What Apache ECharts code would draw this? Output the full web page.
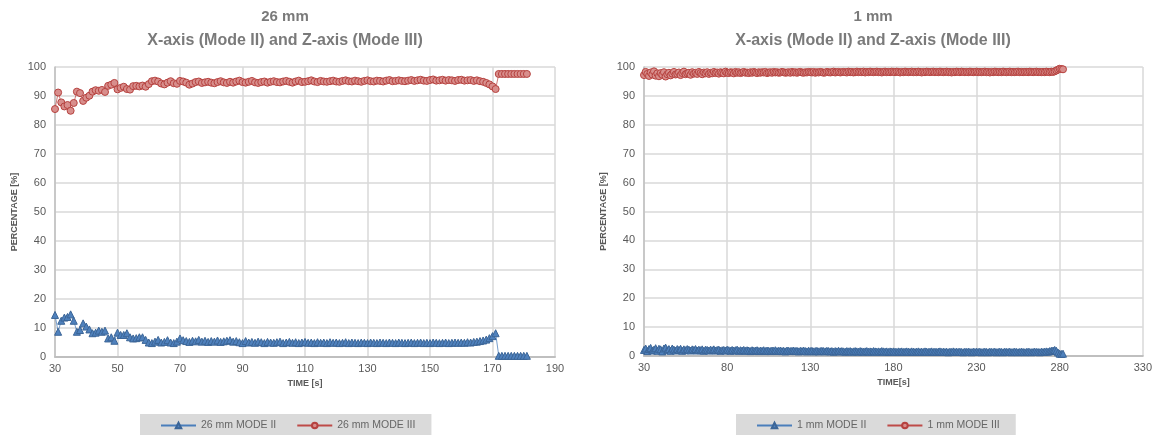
<!DOCTYPE html>
<html>
<head>
<meta charset="utf-8">
<script src="https://cdn.jsdelivr.net/npm/echarts@6/dist/echarts.min.js"></script>
<style>
  html, body { margin: 0; padding: 0; background: #fff; }
  #chart { width: 1155px; height: 435px; }
</style>
</head>
<body>
<div id="chart"></div>
<script>
// 26 mm panel, one sample per second starting at t = 30 s
const leftStart = 30
const leftModeII = [
  14.5, 8.7, 12.5, 13.6, 13.8, 14.7, 12.5, 8.7, 9.3, 11.6,
  10.5, 9.5, 8.2, 8.4, 9.1, 8.7, 9.1, 6.4, 6.8, 5.6,
  8.4, 7.6, 7.6, 8.2, 6.8, 6.4, 6.5, 6.8, 6.8, 5.9,
  5.0, 4.8, 5.3, 5.9, 5.0, 5.2, 5.8, 5.0, 4.8, 5.3,
  6.4, 5.8, 5.5, 5.2, 5.6, 5.4, 5.9, 5.3, 5.6, 5.2,
  5.5, 5.3, 5.7, 5.2, 5.4, 5.6, 5.8, 5.3, 5.5, 5.1,
  4.8, 5.5, 5.0, 5.2, 4.9, 5.3, 5.1, 4.8, 5.2, 5.0,
  4.9, 5.1, 5.3, 4.8, 5.0, 5.2, 4.9, 5.1, 4.8, 5.0,
  5.2, 4.9, 5.0, 4.8, 5.1, 4.9, 5.0, 4.8, 5.1, 4.9,
  5.0, 4.8, 4.9, 5.1, 4.8, 5.0, 4.9, 4.8, 5.0, 4.9,
  4.8, 5.0, 4.9, 4.8, 5.0, 4.9, 4.8, 5.0, 4.9, 4.8,
  5.0, 4.9, 4.8, 4.9, 5.0, 4.8, 4.9, 5.0, 4.8, 4.9,
  4.8, 5.0, 4.9, 4.8, 4.9, 5.0, 4.8, 4.9, 5.0, 4.9,
  5.0, 4.9, 5.1, 5.0, 5.2, 5.3, 5.5, 5.7, 6.0, 6.5,
  7.2, 8.2, 0.4, 0.4, 0.4, 0.4, 0.4, 0.4, 0.4, 0.4,
  0.4, 0.4
]
const leftModeIII = [
  85.5, 91.2, 87.8, 86.4, 86.9, 84.9, 87.6, 91.5, 91.0, 88.3,
  89.4, 90.1, 91.5, 92.0, 91.8, 92.1, 91.4, 93.5, 93.9, 94.5,
  92.3, 92.8, 93.2, 92.4, 92.2, 93.4, 93.5, 93.3, 93.6, 93.2,
  94.1, 95.1, 95.3, 95.0, 94.3, 94.0, 94.6, 95.1, 94.4, 94.2,
  95.2, 95.0, 94.6, 93.9, 94.3, 94.8, 95.0, 94.5, 94.7, 94.9,
  94.6, 94.4, 94.8, 95.1, 94.7, 94.5, 94.9, 94.6, 95.0, 95.3,
  94.8, 94.6, 94.9, 95.2, 94.7, 94.5, 94.8, 95.0, 94.6, 94.9,
  95.1, 94.8, 94.7, 95.0, 95.2, 94.9, 94.6, 95.0, 95.3, 94.8,
  94.9, 95.1, 95.4, 95.0, 94.8, 95.2, 95.0, 94.9, 95.1, 95.3,
  95.0, 94.9, 95.2, 95.4, 95.1, 95.0, 95.3, 95.1, 94.9, 95.2,
  95.4, 95.1, 95.0, 95.3, 95.2, 95.0, 95.3, 95.5, 95.1, 95.2,
  95.4, 95.2, 95.1, 95.3, 95.5, 95.2, 95.4, 95.6, 95.3, 95.2,
  95.5, 95.7, 95.3, 95.4, 95.6, 95.3, 95.5, 95.4, 95.2, 95.5,
  95.6, 95.3, 95.4, 95.5, 95.2, 95.4, 95.1, 94.9, 94.5, 94.0,
  93.3, 92.4, 97.6, 97.6, 97.6, 97.6, 97.6, 97.6, 97.6, 97.6,
  97.6, 97.6
]

// 1 mm panel
const rightStart = 30
const rightModeII = [
  2.1, 2.6, 1.7, 2.4, 2.8, 1.9, 2.2, 2.7, 1.8, 2.5,
  2.3, 1.6, 2.6, 2.9, 2.0, 2.4, 1.8, 2.6, 2.2, 1.9,
  2.4, 2.1, 2.5, 1.8, 2.3, 2.0, 2.4, 2.2, 1.9, 2.3,
  2.1, 2.4, 1.9, 2.2, 2.0, 2.3, 1.8, 2.2, 2.1, 1.9,
  2.2, 2.0, 2.3, 1.9, 2.1, 2.2, 1.8, 2.0, 2.1, 1.9,
  2.2, 2.0, 1.8, 2.1, 1.9, 2.0, 2.2, 1.8, 2.0, 1.9,
  2.1, 1.8, 2.0, 1.9, 1.7, 2.0, 1.8, 1.9, 2.0, 1.7,
  1.9, 1.8, 2.0, 1.7, 1.9, 1.8, 1.7, 1.9, 1.8, 2.0,
  1.7, 1.8, 1.9, 1.7, 1.8, 1.6, 1.9, 1.8, 1.7, 1.8,
  1.9, 1.7, 1.8, 1.6, 1.8, 1.7, 1.9, 1.7, 1.6, 1.8,
  1.7, 1.8, 1.6, 1.7, 1.8, 1.6, 1.7, 1.8, 1.7, 1.6,
  1.8, 1.7, 1.6, 1.7, 1.5, 1.7, 1.6, 1.8, 1.6, 1.7,
  1.6, 1.5, 1.7, 1.6, 1.7, 1.5, 1.6, 1.7, 1.6, 1.5,
  1.7, 1.6, 1.5, 1.6, 1.7, 1.5, 1.6, 1.5, 1.7, 1.6,
  1.5, 1.6, 1.5, 1.7, 1.6, 1.5, 1.6, 1.4, 1.6, 1.5,
  1.6, 1.5, 1.4, 1.6, 1.5, 1.6, 1.4, 1.5, 1.6, 1.5,
  1.4, 1.6, 1.5, 1.4, 1.5, 1.6, 1.4, 1.5, 1.4, 1.6,
  1.5, 1.4, 1.5, 1.6, 1.4, 1.5, 1.4, 1.5, 1.6, 1.4,
  1.5, 1.4, 1.5, 1.3, 1.5, 1.4, 1.6, 1.4, 1.5, 1.4,
  1.5, 1.4, 1.3, 1.5, 1.4, 1.5, 1.4, 1.3, 1.5, 1.4,
  1.5, 1.4, 1.5, 1.3, 1.4, 1.5, 1.4, 1.3, 1.5, 1.4,
  1.4, 1.5, 1.3, 1.4, 1.5, 1.4, 1.3, 1.5, 1.4, 1.4,
  1.5, 1.3, 1.4, 1.5, 1.4, 1.3, 1.4, 1.5, 1.4, 1.3,
  1.4, 1.5, 1.4, 1.3, 1.4, 1.5, 1.4, 1.4, 1.3, 1.5,
  1.4, 1.5, 1.6, 1.5, 1.7, 1.8, 1.9, 2.1, 1.8, 1.2,
  0.8, 0.7, 0.8
]
const rightModeIII = [
  97.2, 98.3, 97.6, 96.9, 98.1, 97.4, 98.5, 97.0, 97.8, 96.8,
  97.9, 97.3, 98.2, 96.7, 97.5, 98.0, 97.1, 97.7, 98.3, 97.4,
  97.6, 98.1, 97.2, 97.9, 98.4, 97.5, 97.8, 98.0, 97.3, 98.2,
  97.7, 98.0, 97.6, 98.3, 97.9, 97.5, 98.1, 97.8, 98.2, 97.6,
  98.0, 97.8, 98.3, 97.9, 98.1, 97.7, 98.2, 98.0, 97.8, 98.4,
  98.0, 97.9, 98.2, 98.1, 97.8, 98.3, 98.0, 98.2, 97.9, 98.1,
  98.3, 98.0, 98.1, 97.9, 98.2, 98.0, 98.3, 98.1, 97.9, 98.2,
  98.0, 98.2, 98.1, 98.3, 97.9, 98.1, 98.2, 98.0, 98.3, 98.1,
  98.2, 98.0, 98.1, 98.3, 98.2, 98.0, 98.1, 98.2, 98.0, 98.3,
  98.1, 98.2, 98.0, 98.2, 98.3, 98.1, 98.0, 98.2, 98.1, 98.3,
  98.2, 98.1, 98.3, 98.0, 98.2, 98.1, 98.3, 98.2, 98.0, 98.1,
  98.3, 98.2, 98.1, 98.2, 98.4, 98.1, 98.2, 98.3, 98.1, 98.2,
  98.3, 98.2, 98.1, 98.4, 98.2, 98.3, 98.1, 98.2, 98.4, 98.2,
  98.3, 98.2, 98.4, 98.1, 98.3, 98.2, 98.4, 98.3, 98.2, 98.3,
  98.4, 98.2, 98.3, 98.1, 98.3, 98.4, 98.2, 98.3, 98.2, 98.4,
  98.3, 98.2, 98.4, 98.3, 98.1, 98.3, 98.2, 98.4, 98.3, 98.2,
  98.3, 98.4, 98.2, 98.3, 98.2, 98.4, 98.3, 98.1, 98.3, 98.2,
  98.4, 98.3, 98.2, 98.3, 98.4, 98.2, 98.3, 98.2, 98.4, 98.3,
  98.2, 98.3, 98.4, 98.2, 98.3, 98.1, 98.3, 98.2, 98.4, 98.3,
  98.2, 98.4, 98.3, 98.2, 98.3, 98.2, 98.4, 98.3, 98.2, 98.3,
  98.4, 98.2, 98.3, 98.2, 98.3, 98.4, 98.2, 98.3, 98.1, 98.3,
  98.2, 98.4, 98.3, 98.2, 98.3, 98.2, 98.4, 98.3, 98.2, 98.3,
  98.4, 98.2, 98.3, 98.2, 98.3, 98.4, 98.2, 98.3, 98.2, 98.3,
  98.3, 98.2, 98.4, 98.3, 98.2, 98.3, 98.4, 98.2, 98.3, 98.2,
  98.3, 98.2, 98.4, 98.3, 98.2, 98.4, 98.3, 98.5, 98.8, 99.1,
  99.4, 99.3, 99.2
]

const yTicks = { min: 0, max: 100, interval: 10 }
const leftXTicks = { min: 30, max: 190, interval: 20 }
const rightXTicks = { min: 30, max: 330, interval: 50 }

const toPairs = (start, values) => values.map((v, i) => [start + i, v])

const FONT = 'Liberation Sans'
const textGray = '#595959'
const gridGray = '#d9d9d9'
const axisGray = '#bfbfbf'

const blue = { fill: '#4f81bd', line: '#4a7ebb', border: '#3b6597' }
const red = { fill: '#d88e8c', line: '#be4b48', border: '#b6423f' }

const makeTitle = (text, center) => ({
  text: text,
  subtext: 'X-axis (Mode II) and Z-axis (Mode III)',
  left: center,
  top: 9,
  padding: 0,
  itemGap: 9,
  textAlign: 'center',
  textStyle: { fontFamily: FONT, fontSize: 15, fontWeight: 'bold', color: '#7a7a7a' },
  subtextStyle: { fontFamily: FONT, fontSize: 16, fontWeight: 'bold', color: '#7a7a7a' }
})

const makeXAxis = (gridIndex, ticks, name) => ({
  type: 'value',
  gridIndex: gridIndex,
  min: ticks.min,
  max: ticks.max,
  interval: ticks.interval,
  name: name,
  nameLocation: 'middle',
  nameGap: 18,
  nameTextStyle: { fontFamily: FONT, fontSize: 9, fontWeight: 'bold', color: textGray },
  axisLine: { show: true, onZero: false, lineStyle: { color: axisGray, width: 2 } },
  axisTick: { show: false },
  axisLabel: { fontFamily: FONT, fontSize: 11, color: textGray, margin: 6 },
  splitLine: { show: true, lineStyle: { color: gridGray, width: 1.5 } }
})

const makeYAxis = (gridIndex) => ({
  type: 'value',
  gridIndex: gridIndex,
  min: yTicks.min,
  max: yTicks.max,
  interval: yTicks.interval,
  name: 'PERCENTAGE [%]',
  nameLocation: 'middle',
  nameRotate: 90,
  nameGap: 36,
  nameTextStyle: { fontFamily: FONT, fontSize: 9, fontWeight: 'bold', color: textGray },
  axisLine: { show: true, lineStyle: { color: axisGray, width: 1.5 } },
  axisTick: { show: false },
  axisLabel: { fontFamily: FONT, fontSize: 11, color: textGray, margin: 9 },
  splitLine: { show: true, lineStyle: { color: gridGray, width: 1.5 } }
})

const makeSeries = (name, idx, data, symbol, c) => ({
  name: name,
  type: 'line',
  xAxisIndex: idx,
  yAxisIndex: idx,
  data: data,
  symbol: symbol,
  symbolSize: 7,
  showAllSymbol: true,
  lineStyle: { color: c.line, width: 0.75 },
  itemStyle: { color: c.fill, borderColor: c.border, borderWidth: 1 },
  emphasis: { disabled: true }
})

const makeLegend = (names, left) => ({
  data: names,
  left: left,
  top: 414,
  orient: 'horizontal',
  backgroundColor: '#dadada',
  padding: [6, 16, 8, 20],
  itemGap: 20,
  itemWidth: 35,
  itemHeight: 7,
  textStyle: { fontFamily: FONT, fontSize: 10.5, color: '#666666' }
})

const chart = echarts.init(document.getElementById('chart'))

chart.setOption({
  animation: false,
  backgroundColor: '#ffffff',
  title: [makeTitle('26 mm', 285), makeTitle('1 mm', 873)],
  grid: [
    { left: 55, top: 67, width: 500, height: 290 },
    { left: 644, top: 67, width: 499, height: 289 }
  ],
  xAxis: [makeXAxis(0, leftXTicks, 'TIME [s]'), makeXAxis(1, rightXTicks, 'TIME[s]')],
  yAxis: [makeYAxis(0), makeYAxis(1)],
  legend: [
    makeLegend(['26 mm MODE II', '26 mm MODE III'], 140),
    makeLegend(['1 mm MODE II', '1 mm MODE III'], 736)
  ],
  series: [
    makeSeries('26 mm MODE II', 0, toPairs(leftStart, leftModeII), 'triangle', blue),
    makeSeries('26 mm MODE III', 0, toPairs(leftStart, leftModeIII), 'circle', red),
    makeSeries('1 mm MODE II', 1, toPairs(rightStart, rightModeII), 'triangle', blue),
    makeSeries('1 mm MODE III', 1, toPairs(rightStart, rightModeIII), 'circle', red)
  ]
})
</script>
</body>
</html>
